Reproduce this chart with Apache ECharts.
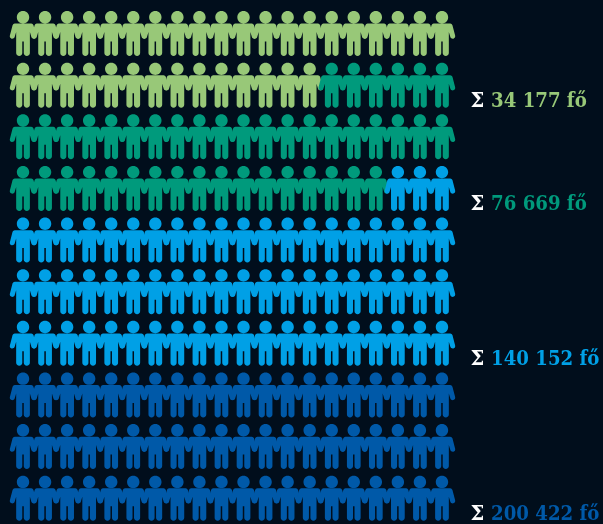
<!DOCTYPE html>
<html>
<head>
<meta charset="utf-8">
<style>
html,body{margin:0;padding:0;background:#010e1c;}
#main{width:603px;height:524px;}
</style>
<script src="https://cdn.jsdelivr.net/npm/echarts@6/dist/echarts.min.js"></script>
</head>
<body>
<div id="main"></div>
<script>
// cumulative totals, one figure is about 1000 people
var groupTotals = [34177, 76669, 140152, 200422];
var groupColors = ['#98c878', '#009a7c', '#00a0e6', '#0059a8'];
var columns = ['1','2','3','4','5','6','7','8','9','10','11','12','13','14','15','16','17','18','19','20'];
var rows = ['1','2','3','4','5','6','7','8','9','10'];
var labelRows = [1, 3, 6, 9];

var personPath = 'path://M13.25 0C16.7 0 19.45 2.75 19.45 6.2C19.45 9.65 16.7 12.4 13.25 12.4C9.8 12.4 7.05 9.65 7.05 6.2C7.05 2.75 9.8 0 13.25 0z' +
	'M5 12.6L21.5 12.6Q23.1 12.6 23.7 14.2L26.4 24.6C26.75 25.95 26 27.3 24.7 27.65C23.4 28 22 27.3 21.6 26L20.1 21L20.1 42' +
	'C20.1 43.65 18.75 45 17.05 45C15.35 45 14 43.65 14 42L14 30.5L12.5 30.5L12.5 42C12.5 43.65 11.15 45 9.45 45C7.75 45 6.4 43.65 6.4 42L6.4 21L4.9 26' +
	'C4.5 27.3 3.1 28 1.8 27.65C.5 27.3 -.25 25.95 .1 24.6L2.8 14.2Q3.4 12.6 5 12.6z';

function formatTotal(n){
	return String(n).replace(/\B(?=(\d{3})+$)/g, ' ') + ' fő';
}

var series = [];
var start = 0;
groupTotals.forEach(function(total, g){
	var end = Math.round(total / 1000);
	var points = [];
	for(var i = start; i < end; i++){
		points.push([i % columns.length, Math.floor(i / columns.length)]);
	}
	start = end;
	series.push({
		type: 'scatter',
		silent: true,
		symbol: personPath,
		symbolSize: [26.5, 45],
		itemStyle: {color: groupColors[g], opacity: 1},
		data: points
	});
});

// total labels at the right of the row where each group ends
series.push({
	type: 'scatter',
	silent: true,
	symbolSize: 1,
	itemStyle: {color: 'rgba(0,0,0,0)', opacity: 1},
	z: 5,
	data: labelRows.map(function(r, g){
		var key = 'c' + g;
		var rich = {
			s: {color: '#ffffff', fontFamily: 'DejaVu Serif', fontWeight: 'bold', fontSize: 19.5},
		};
		rich[key] = {color: groupColors[g], fontFamily: 'DejaVu Serif Condensed', fontWeight: 'bold', fontSize: 20.2};
		return {
			value: [columns.length - 1, r],
			label: {
				show: true,
				position: 'right',
				distance: 28,
				offset: [0, 16.5],
				formatter: '{s|Σ }{' + key + '|' + formatTotal(groupTotals[g]) + '}',
				rich: rich
			}
		};
	})
});

var myChart = echarts.init(document.getElementById('main'), null, {renderer: 'canvas'});
myChart.setOption({
	backgroundColor: '#010e1c',
	animation: false,
	grid: {left: 12, top: 7.7, width: 441, height: 516.7},
	xAxis: {type: 'category', data: columns, show: false},
	yAxis: {type: 'category', data: rows, inverse: true, show: false},
	series: series
});
</script>
</body>
</html>
